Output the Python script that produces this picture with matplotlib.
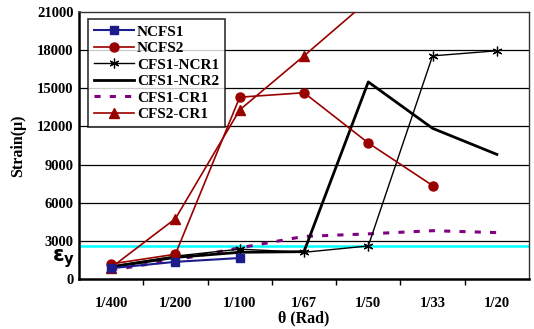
import matplotlib
matplotlib.use('Agg')
import matplotlib.pyplot as plt

plt.rcParams['font.family'] = ['Liberation Serif', 'DejaVu Serif']
plt.rcParams['font.weight'] = 'bold'

drifts = ['1/400', '1/200', '1/100', '1/67', '1/50', '1/33', '1/20']
ncfs1 = [850, 1350, 1650]
ncfs2 = [1180, 1950, 14300, 14650, 10700, 7350]
cfs1_ncr1 = [1000, 1800, 2350, 2100, 2600, 17550, 17950]
cfs1_ncr2 = [950, 1700, 2100, 2150, 15500, 11850, 9800]
cfs1_cr1 = [700, 1500, 2450, 3350, 3550, 3800, 3650]
cfs2_cr1 = [900, 4750, 13300, 17550, 21900]
yield_strain = 2600

fig = plt.figure(figsize=(5.34, 3.29), dpi=100)
ax = fig.add_axes([79/534, 1-279/329, 450/534, 267/329])

for v in range(3000, 21000, 3000):
    ax.axhline(v, color='black', lw=0.9, zorder=1)
ax.axhline(yield_strain, color='#00ffff', lw=1.8, zorder=2)

x = list(range(len(drifts)))
ax.plot(x[:len(ncfs1)], ncfs1, color='#1c1c8c', lw=1.5, marker='s', ms=6, label='NCFS1', zorder=6)
ax.plot(x[:len(ncfs2)], ncfs2, color='#990000', lw=1.2, marker='o', ms=6.5, label='NCFS2', zorder=5)
ax.plot(x, cfs1_ncr1, color='black', lw=1.0, marker=(6, 2, 0), ms=7, mew=0.9, label='CFS1-NCR1', zorder=4)
ax.plot(x, cfs1_ncr2, color='black', lw=2.0, label='CFS1-NCR2', zorder=4)
ax.plot(x, cfs1_cr1, color='#800080', lw=2.2, ls=(0, (2, 3)), label='CFS1-CR1', zorder=3)
ax.plot(x[:len(cfs2_cr1)], cfs2_cr1, color='#990000', lw=1.2, marker='^', ms=6.5, label='CFS2-CR1', zorder=5)

ax.set_xlim(-0.5, 6.5)
ax.set_ylim(0, 21000)
ax.set_yticks(range(0, 21001, 3000))
ax.set_xticks(x)
ax.set_xticklabels(drifts)
ax.set_xticks([i + 0.5 for i in range(6)], minor=True)
ax.tick_params(axis='x', which='major', length=0, pad=13, labelsize=10.5)
ax.tick_params(axis='x', which='minor', length=4, width=1, direction='out')
ax.tick_params(axis='y', length=0, pad=4, labelsize=10.5)

for s in ['left', 'bottom']:
    ax.spines[s].set_linewidth(1.8)
for s in ['top', 'right']:
    ax.spines[s].set_linewidth(1.0)
    ax.spines[s].set_color('#333333')

ax.set_ylabel('Strain(\u03bc)', fontsize=11.5, fontweight='bold', labelpad=8)
ax.set_xlabel('\u03b8 (Rad)', fontsize=11.5, fontweight='bold', labelpad=0)

ax.text(-0.56, 1600, r'$\mathbf{\varepsilon_y}$', fontsize=15, ha='right', va='center', clip_on=False)

leg = ax.legend(loc='upper left', bbox_to_anchor=(0.02, 0.974), fontsize=11, frameon=True,
                fancybox=False, edgecolor='black', borderpad=0.4, labelspacing=0.18,
                handlelength=2.6, handletextpad=0.2, borderaxespad=0)
leg.get_frame().set_linewidth(1.2)
leg.set_zorder(10)

fig.savefig('out.png', dpi=100)
